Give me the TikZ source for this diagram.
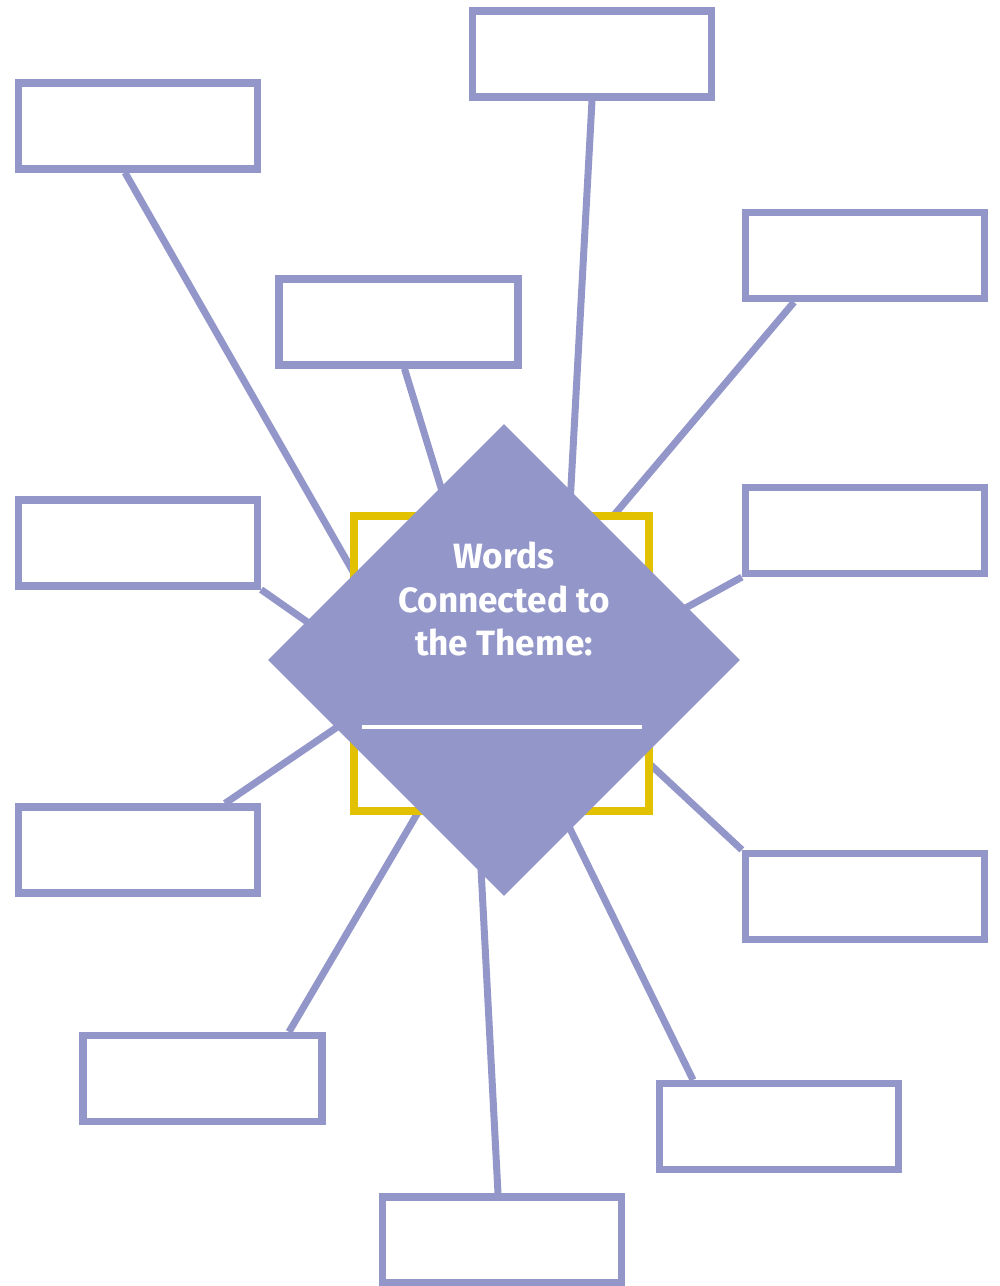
\documentclass[tikz,border=0pt]{standalone}
\usepackage{fontspec}
\setmainfont{Fira Sans}
\usetikzlibrary{shapes.geometric}
\definecolor{lilac}{RGB}{147,150,201}
\definecolor{mustard}{RGB}{226,193,0}
\tikzset{
	wordbox/.style={draw=lilac,line width=0.145cm,fill=white,minimum width=4.78cm,minimum height=1.72cm,inner sep=0pt},
	link/.style={draw=lilac,line width=0.14cm},
}

\begin{document}
\begin{tikzpicture}[x=0.02cm,y=-0.02cm]
	\useasboundingbox (0,0) rectangle (1000,1286);	%page frame

	%word boxes
	\node[wordbox] (box1)  at (138,126)    {};	%top left
	\node[wordbox] (box2)  at (592,54)     {};	%top
	\node[wordbox] (box3)  at (865,255.5)  {};	%right, upper
	\node[wordbox] (box4)  at (398.5,322)  {};	%inner, upper
	\node[wordbox] (box5)  at (138,543)    {};	%left, middle
	\node[wordbox] (box6)  at (865,530.5)  {};	%right, middle
	\node[wordbox] (box7)  at (138,850)    {};	%left, lower
	\node[wordbox] (box8)  at (865,896.5)  {};	%right, lower
	\node[wordbox] (box9)  at (202.5,1078.5) {};	%bottom left
	\node[wordbox] (box10) at (779,1126.5) {};	%bottom right
	\node[wordbox] (box11) at (502,1240)   {};	%bottom

	%hidden ends of the links (under the diamond)
	\coordinate (end1)  at (375,610);
	\coordinate (end2)  at (567,560);
	\coordinate (end3)  at (576,560);
	\coordinate (end4)  at (457,540);
	\coordinate (end5)  at (333,640);
	\coordinate (end6)  at (660,622);
	\coordinate (end7)  at (380,698);
	\coordinate (end8)  at (610,727);
	\coordinate (end9)  at (437,780);
	\coordinate (end10) at (551,790);
	\coordinate (end11) at (479,830);

	%links
	\draw[link] ([xshift=-0.26cm]box1.south) -- (end1);
	\draw[link] (box2.south) -- (end2);
	\draw[link] ([xshift=-1.42cm]box3.south) -- (end3);
	\draw[link] ([xshift=0.12cm]box4.south) -- (end4);
	\draw[link] (box5.south east) -- (end5);
	\draw[link] (box6.south west) -- (end6);
	\draw[link] ([xshift=1.74cm]box7.north) -- (end7);
	\draw[link] (box8.north west) -- (end8);
	\draw[link] ([xshift=1.73cm]box9.north) -- (end9);
	\draw[link] ([xshift=-1.72cm]box10.north) -- (end10);
	\draw[link] ([xshift=-0.08cm]box11.north) -- (end11);

	%centre piece
	\node[draw=mustard,line width=0.16cm,fill=white,minimum size=5.9cm,inner sep=0pt] (frame) at (501.5,663.5) {};	%yellow square
	\node[diamond,fill=lilac,minimum size=9.44cm,inner sep=0pt] (theme) at (504,660) {};
	\node[text=white,align=center,font=\bfseries\fontsize{20}{25}\selectfont] (title) at (504,599) {Words\\Connected to\\the Theme:};
	\draw[white,line width=0.09cm] (362,727) -- (642,727);	%blank to write on
\end{tikzpicture}
\end{document}
